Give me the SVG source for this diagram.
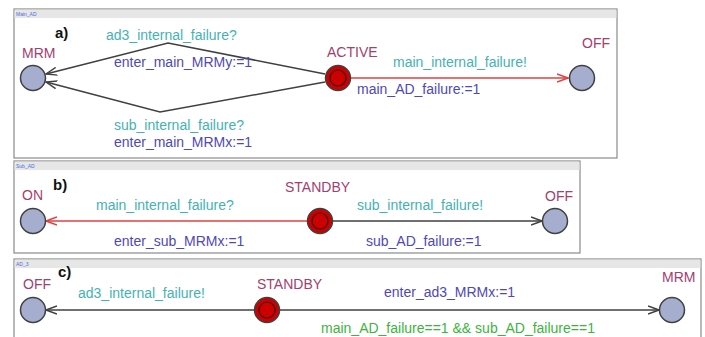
<svg xmlns="http://www.w3.org/2000/svg" width="705" height="337" viewBox="0 0 705 337">
<defs>
<style>
.panel{fill:#ffffff;stroke:#8a8a8a;stroke-width:1.2}
.bar{fill:#e6e6e6}
.ttl{font-family:"Liberation Sans",Arial,sans-serif;font-size:5px;fill:#4a6ee0}
.tag{font-family:"Liberation Sans",Arial,sans-serif;font-size:15px;font-weight:bold;fill:#111111}
.loc{font-family:"Liberation Sans",Arial,sans-serif;font-size:14px;fill:#a3406f}
.syn{font-family:"Liberation Sans",Arial,sans-serif;font-size:14px;fill:#45b2b2}
.asg{font-family:"Liberation Sans",Arial,sans-serif;font-size:14px;fill:#5048b4}
.grd{font-family:"Liberation Sans",Arial,sans-serif;font-size:14px;fill:#3cb43c}
.node{fill:#a6aed0;stroke:#404040;stroke-width:1.5}
.init{fill:#cc0000;stroke:#404040;stroke-width:1.5}
.inner{fill:#cc0000;stroke:#3a0000;stroke-width:1.2}
.edge{fill:none;stroke:#404040;stroke-width:1.5}
.redge{fill:none;stroke:#e04040;stroke-width:1.5}
</style>
<marker id="ah" viewBox="0 0 12 10" refX="11" refY="5" markerWidth="12" markerHeight="10" markerUnits="userSpaceOnUse" orient="auto">
<path d="M0,1 L11,5 L0,9" fill="none" stroke="#404040" stroke-width="1.4"/>
</marker>
<marker id="ahr" viewBox="0 0 12 10" refX="11" refY="5" markerWidth="12" markerHeight="10" markerUnits="userSpaceOnUse" orient="auto">
<path d="M0,1 L11,5 L0,9" fill="none" stroke="#e04040" stroke-width="1.4"/>
</marker>
</defs>

<g id="panels">
<rect class="panel" x="14" y="9" width="603" height="149"/>
<rect class="bar" x="14.6" y="9.6" width="601.8" height="8.5"/>
<text class="ttl" x="16" y="16">Main_AD</text>
<rect class="panel" x="14" y="161" width="566" height="92"/>
<rect class="bar" x="14.6" y="161.6" width="564.8" height="8.5"/>
<text class="ttl" x="16" y="168">Sub_AD</text>
<rect class="panel" x="14" y="259" width="687" height="85"/>
<rect class="bar" x="14.6" y="259.6" width="685.8" height="8.5"/>
<text class="ttl" x="16" y="266">AD_3</text>
<text class="tag" x="55" y="38">a)</text>
<text class="tag" x="53" y="190">b)</text>
<text class="tag" x="58" y="277">c)</text>
</g>

<g id="connectors">
<polyline class="edge" points="325,74 168,43 46,74" marker-end="url(#ah)"/>
<polyline class="edge" points="325,82 160,112 46,82" marker-end="url(#ah)"/>
<line class="redge" x1="351" y1="78" x2="568" y2="78" marker-end="url(#ahr)"/>
<text class="syn" x="106" y="40">ad3_internal_failure?</text>
<text class="asg" x="114" y="67">enter_main_MRMy:=1</text>
<text class="syn" x="114" y="130">sub_internal_failure?</text>
<text class="asg" x="114" y="147">enter_main_MRMx:=1</text>
<text class="syn" x="393" y="67">main_internal_failure!</text>
<text class="asg" x="357" y="94">main_AD_failure:=1</text>

<line class="redge" x1="307" y1="221" x2="46" y2="221" marker-end="url(#ahr)"/>
<line class="edge" x1="333" y1="221" x2="542" y2="221" marker-end="url(#ah)"/>
<text class="syn" x="96" y="210">main_internal_failure?</text>
<text class="asg" x="114" y="246">enter_sub_MRMx:=1</text>
<text class="syn" x="357" y="210">sub_internal_failure!</text>
<text class="asg" x="366" y="246">sub_AD_failure:=1</text>

<line class="edge" x1="254" y1="310" x2="46" y2="310" marker-end="url(#ah)"/>
<line class="edge" x1="280" y1="310" x2="659" y2="310" marker-end="url(#ah)"/>
<text class="syn" x="78" y="298">ad3_internal_failure!</text>
<text class="asg" x="384" y="297">enter_ad3_MRMx:=1</text>
<text class="grd" x="321" y="333">main_AD_failure==1 &amp;&amp; sub_AD_failure==1</text>
</g>

<g id="a_MRM"><circle class="node" cx="33" cy="78" r="12.5"/><text class="loc" x="22" y="58">MRM</text></g>
<g id="a_ACTIVE"><circle class="init" cx="338" cy="78" r="12.5"/><circle class="inner" cx="338" cy="78" r="8"/><text class="loc" x="327" y="57">ACTIVE</text></g>
<g id="a_OFF"><circle class="node" cx="582" cy="78" r="12.5"/><text class="loc" x="582" y="48">OFF</text></g>

<g id="b_ON"><circle class="node" cx="33" cy="221" r="12.5"/><text class="loc" x="22" y="200">ON</text></g>
<g id="b_STANDBY"><circle class="init" cx="320" cy="221" r="12.5"/><circle class="inner" cx="320" cy="221" r="8"/><text class="loc" x="285" y="192">STANDBY</text></g>
<g id="b_OFF"><circle class="node" cx="555" cy="221" r="12.5"/><text class="loc" x="545" y="201">OFF</text></g>

<g id="c_OFF"><circle class="node" cx="33" cy="310" r="12.5"/><text class="loc" x="23" y="289">OFF</text></g>
<g id="c_STANDBY"><circle class="init" cx="267" cy="310" r="12.5"/><circle class="inner" cx="267" cy="310" r="8"/><text class="loc" x="257" y="289">STANDBY</text></g>
<g id="c_MRM"><circle class="node" cx="672" cy="310" r="12.5"/><text class="loc" x="662" y="282">MRM</text></g>
</svg>
